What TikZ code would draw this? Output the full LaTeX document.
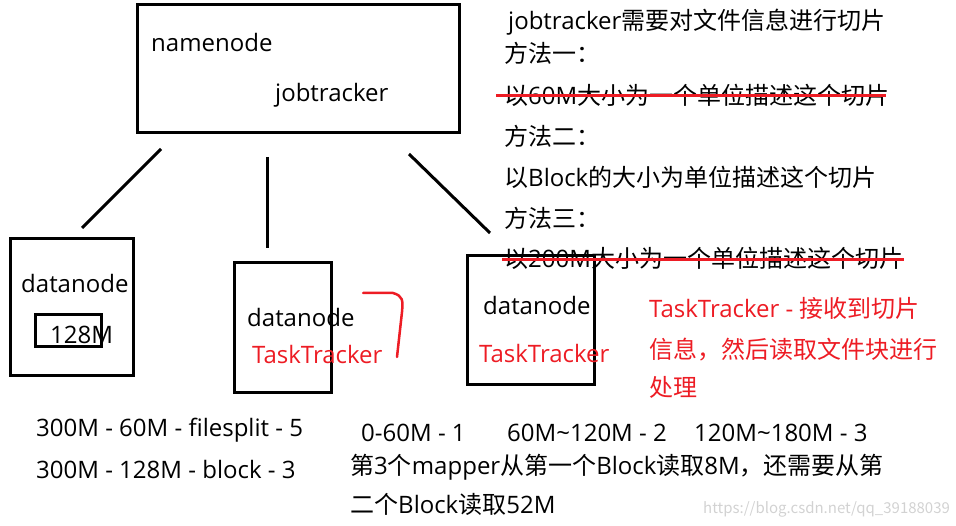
\documentclass[tikz,border=0pt]{standalone}
\usepackage{fontspec}
\setmainfont{Noto Sans CJK SC}
\newfontfamily\lat{Open Sans}
\usepackage{xcolor}
\definecolor{markred}{RGB}{237,28,36}

\begin{document}
\begin{tikzpicture}[x=1pt,y=-1pt,
		box/.style={draw,line width=3pt,rectangle,inner sep=0pt},
		txt/.style={anchor=base west,inner sep=0pt,font=\fontsize{24}{28}\selectfont},
		lattxt/.style={txt,font=\fontsize{24}{28}\selectfont\lat},
		redtxt/.style={txt,text=markred},
		link/.style={line width=3pt},
		strike/.style={draw=markred,line width=3pt}]
				\useasboundingbox (0,0) rectangle (956,526);
				% boxes
				\node[box,minimum width=322pt,minimum height=128pt] (nn) at (298,69) {};
				\node[box,minimum width=123pt,minimum height=137pt] (dn1) at (71.5,307.5) {};
				\node[box,minimum width=66pt,minimum height=32pt] (blk) at (68,331) {};
				\node[box,minimum width=97pt,minimum height=130pt] (dn2) at (282.5,328) {};
				\node[box,minimum width=127pt,minimum height=129pt] (dn3) at (530.5,320.5) {};
				% labels in the boxes
				\node[lattxt] (nnlbl) at (151,52) {namenode};
				\node[lattxt] (jtlbl) at (275,102) {jobtracker};
				\node[lattxt] (dn1lbl) at (21,293) {datanode};
				\node[lattxt] (blklbl) at (50,344) {128M};
				\node[lattxt] (dn2lbl) at (247,327) {datanode};
				\node[lattxt,text=markred] (tt2lbl) at (252,364) {TaskTracker};
				\node[lattxt] (dn3lbl) at (483,315) {datanode};
				\node[lattxt,text=markred] (tt3lbl) at (479,363) {TaskTracker};
				% links
				\coordinate (l1a) at (161,149);
				\coordinate (l1b) at (82,228);
				\coordinate (l2a) at (267,157);
				\coordinate (l2b) at (267,248);
				\coordinate (l3a) at (409,154);
				\coordinate (l3b) at (490,233);
				\draw[link] (l1a) -- (l1b);
				\draw[link] (l2a) -- (l2b);
				\draw[link] (l3a) -- (l3b);
				% notes on the right
				\node[txt] (note0) at (508,30) {{\lat jobtracker}需要对文件信息进行切片};
				\node[txt] (note1) at (504,63) {方法一：};
				\node[txt] (note2) at (504,105) {以{\lat 60M}大小为一个单位描述这个切片};
				\node[txt] (note3) at (504,146) {方法二：};
				\node[txt] (note4) at (504,187) {以{\lat Block}的大小为单位描述这个切片};
				\node[txt] (note5) at (504,228) {方法三：};
				\node[txt] (note6) at (504,268) {以{\lat 200M}大小为一个单位描述这个切片};
				\coordinate (s1a) at (496,96);
				\coordinate (s1b) at (886,96);
				\coordinate (s2a) at (502,260);
				\coordinate (s2b) at (904,260);
				\draw[strike] (s1a) -- (s1b);
				\draw[strike] (s2a) -- (s2b);
				\node[redtxt] (tt0) at (649,318) {{\lat TaskTracker - }接收到切片};
				\node[redtxt] (tt1) at (649,359) {信息，然后读取文件块进行};
				\node[redtxt] (tt2) at (649,397) {处理};
				% red bracket
				\coordinate (br0) at (363,293);
				\coordinate (br1) at (397,357);
				\draw[strike,line width=2.5pt,line cap=round] (br0) -- (393,293) .. controls (403,296) and (403,300) .. (402,312) -- (br1);
				% notes at the bottom
				\node[lattxt] (bot0) at (36,437) {300M - 60M - filesplit - 5};
				\node[lattxt] (bot1) at (36,478) {300M - 128M - block - 3};
				\node[lattxt] (bot2a) at (361,442) {0-60M - 1};
				\node[lattxt] (bot2b) at (507,442) {60M\textasciitilde120M - 2};
				\node[lattxt] (bot2c) at (694,442) {120M\textasciitilde180M - 3};
				\node[txt] (bot3) at (350,474) {第{\lat 3}个{\lat mapper}从第一个{\lat Block}读取{\lat 8M}，还需要从第};
				\node[txt] (bot4) at (350,513) {二个{\lat Block}读取{\lat 52M}};
				\node[anchor=base west,inner sep=0pt,text=gray!35,font=\fontsize{15}{18}\selectfont] (wm) at (703,513) {https://blog.csdn.net/qq\_39188039};
			\end{tikzpicture}
\end{document}
